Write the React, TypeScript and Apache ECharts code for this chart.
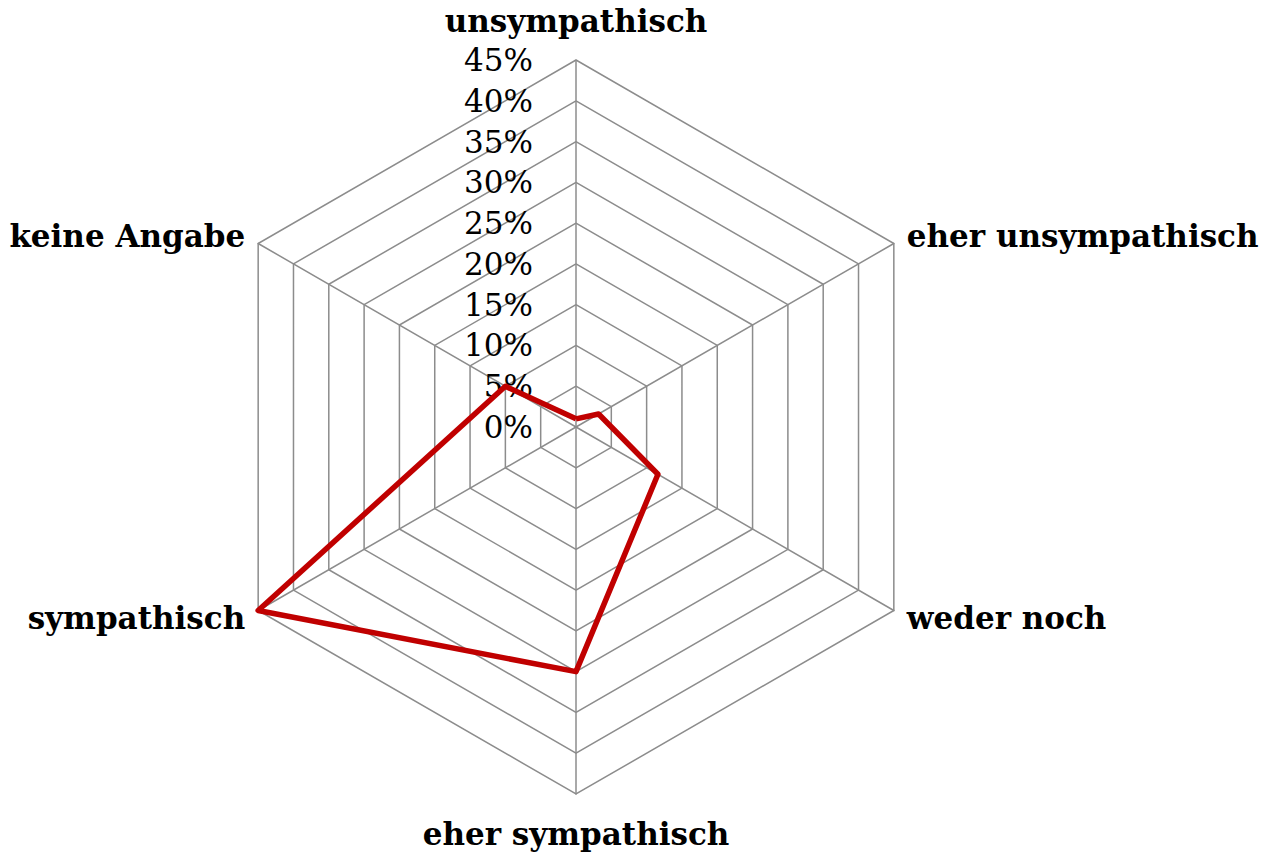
import React, { useEffect, useRef } from "react";
import * as echarts from "echarts";

// Counter-clockwise order starting at the top (ECharts radar direction)
const categories = [
  "unsympathisch",
  "keine Angabe",
  "sympathisch",
  "eher sympathisch",
  "weder noch",
  "eher unsympathisch",
];
const values = [1, 10, 45, 30, 11.6, 3.2];
const axisMax = 45;
const axisSplits = 9;

export default function App() {
  const ref = useRef<HTMLDivElement>(null);
  useEffect(() => {
    if (!ref.current) return;
    const chart = echarts.init(ref.current, null, { renderer: "svg" });
    const gray = "#8c8c8c";
    chart.setOption({
      animation: false,
      backgroundColor: "#ffffff",
      radar: {
        center: [576, 427],
        radius: 367,
        startAngle: 90,
        shape: "polygon",
        splitNumber: axisSplits,
        nameGap: 15,
        axisName: {
          color: "#000",
          fontFamily: "DejaVu Serif",
          fontWeight: "bold",
          fontSize: 31,
        },
        axisLine: { lineStyle: { color: gray, width: 1.5 } },
        splitLine: { lineStyle: { color: gray, width: 1.5 } },
        splitArea: { show: false },
        axisTick: { show: false },
        axisLabel: {
          show: true,
          color: "#000",
          fontFamily: "DejaVu Serif",
          fontSize: 31,
          margin: 43,
          formatter: (v: number) => `${v}%`,
        },
        indicator: categories.map((name, i) => {
          const ind: any = { name, min: 0, max: axisMax };
          if (i !== 0) ind.axisLabel = { show: false };
          if (i === 0 || i === 3) ind.nameGap = 24;
          return ind;
        }),
      },
      series: [
        {
          type: "radar",
          symbol: "none",
          lineStyle: { color: "#c00000", width: 5.5 },
          data: [{ value: values, name: "Anteil" }],
        },
      ],
    });
    return () => chart.dispose();
  }, []);
  return (
    <div
      ref={ref}
      style={{ position: "fixed", left: 0, top: 0, width: 1268, height: 858 }}
    />
  );
}
